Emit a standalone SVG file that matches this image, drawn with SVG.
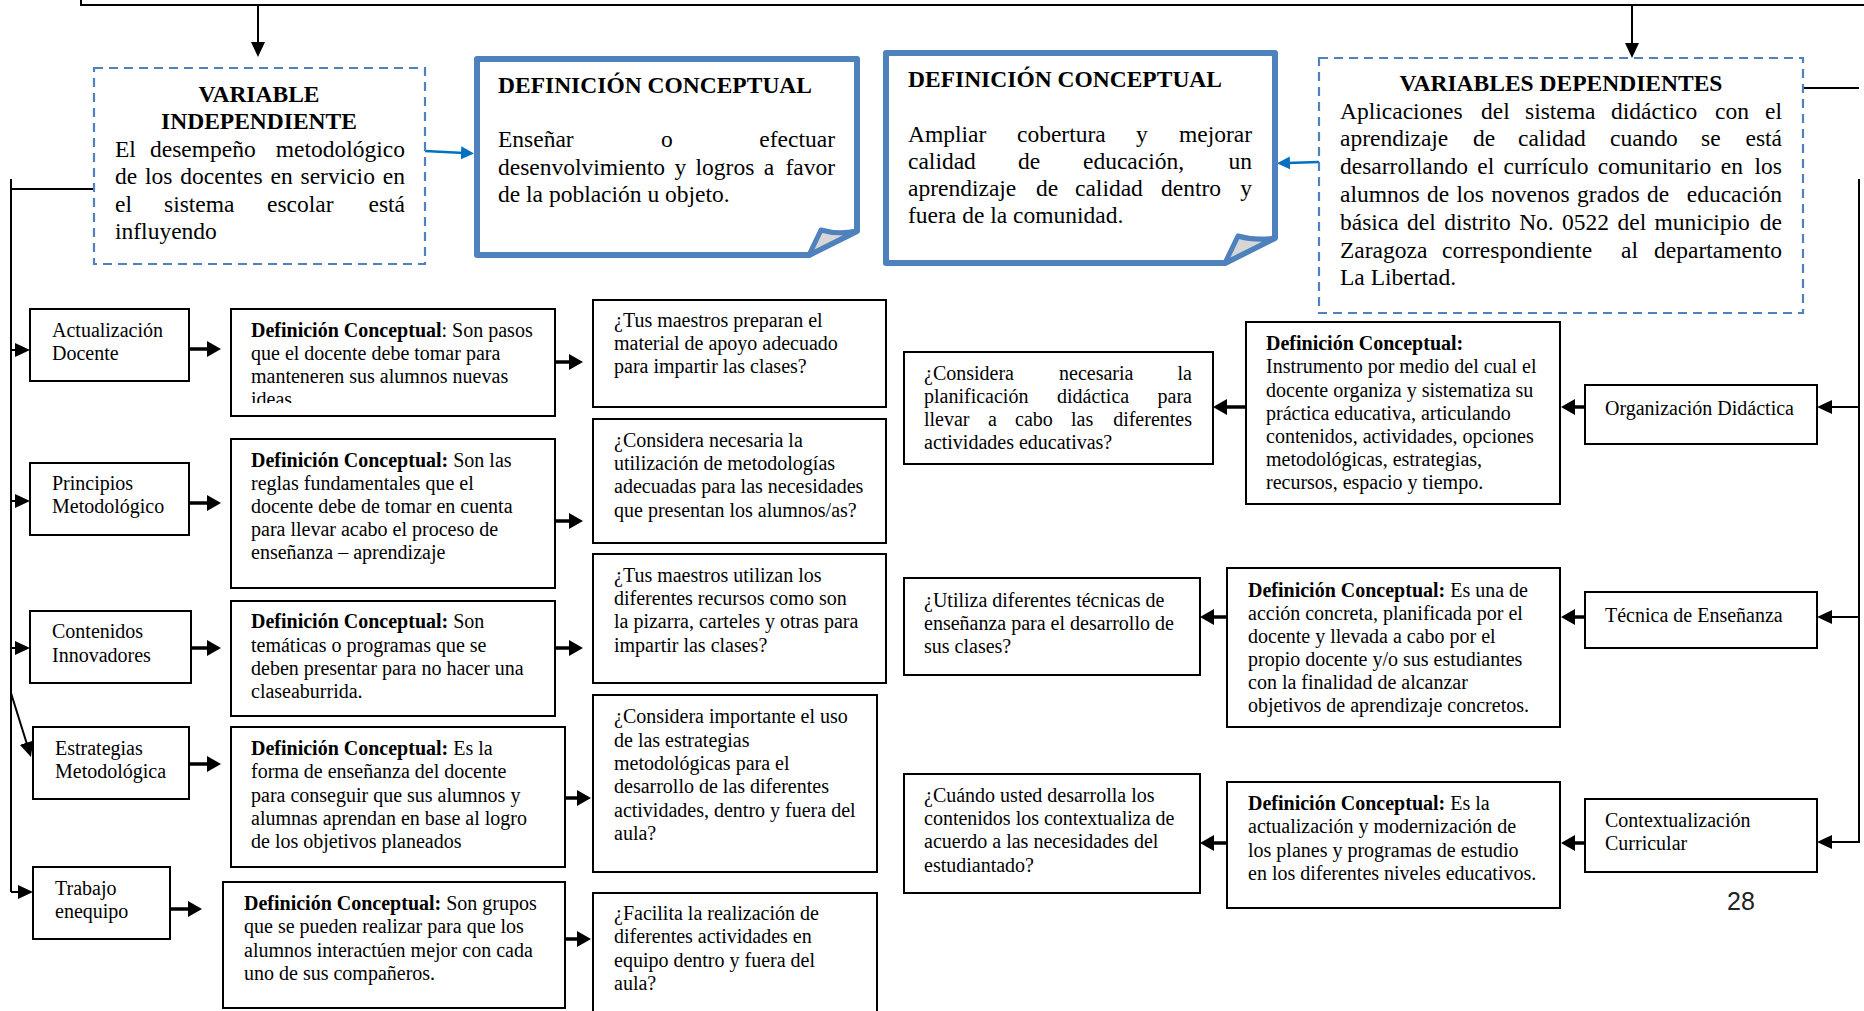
<svg xmlns="http://www.w3.org/2000/svg" width="1864" height="1011" viewBox="0 0 1864 1011">
<style>
.t{font-family:"Liberation Serif","Times New Roman",serif;font-size:20px;fill:#000}
.T{font-size:23.5px}
.b{font-weight:bold}
.e{text-anchor:end}
.box{fill:#fff;stroke:#000;stroke-width:2}
.dash{fill:#fff;stroke:#4F81BD;stroke-width:2.2;stroke-dasharray:9 6}
.def{fill:#fff;stroke:#4F81BD;stroke-width:6;stroke-linejoin:round}
.flap{fill:#D6D6D6;stroke:#4F81BD;stroke-width:5;stroke-linejoin:round}
.c{fill:none;stroke:#000;stroke-width:2}
.k{fill:none;stroke:#000;stroke-width:3.5}
.bl{fill:none;stroke:#0070C0;stroke-width:2.5}
.pg{font-family:"Liberation Sans",Arial,sans-serif;font-size:25px;fill:#222}
</style>
<defs>
<marker id="m1" markerUnits="userSpaceOnUse" markerWidth="15" markerHeight="14" viewBox="0 0 15 14" refX="5" refY="7" orient="auto"><path d="M0,0 L15,7 L0,14 Z" fill="#000"/></marker>
<marker id="m2" markerUnits="userSpaceOnUse" markerWidth="14" markerHeight="16" viewBox="0 0 14 16" refX="4" refY="8" orient="auto"><path d="M0,0 L14,8 L0,16 Z" fill="#000"/></marker>
<marker id="m3" markerUnits="userSpaceOnUse" markerWidth="13" markerHeight="13" viewBox="0 0 13 13" refX="3" refY="6.5" orient="auto"><path d="M0,0 L13,6.5 L0,13 Z" fill="#0070C0"/></marker>
<clipPath id="clipA"><rect x="232" y="310" width="322" height="93"/></clipPath>
</defs>

<g id="connectors">
<path class="c" d="M81,0 V5 H1864"/>
<path class="c" d="M258,5 V47" marker-end="url(#m1)"/>
<path class="c" d="M1632,5 V48" marker-end="url(#m1)"/>
<path class="c" d="M11,179 V892 M11,189 H94"/>
<path class="c" d="M11,350 H20" marker-end="url(#m1)"/>
<path class="c" d="M11,501 H20" marker-end="url(#m1)"/>
<path class="c" d="M11,648 H20" marker-end="url(#m1)"/>
<path class="c" d="M11,693 L28,747.5" marker-end="url(#m1)"/>
<path class="c" d="M11,892 H23" marker-end="url(#m1)"/>
<path class="c" d="M1803,88 H1859"/>
<path class="c" d="M1859,179 V842 H1827" marker-end="url(#m1)"/>
<path class="c" d="M1859,407 H1827" marker-end="url(#m1)"/>
<path class="c" d="M1859,617 H1827" marker-end="url(#m1)"/>
<path class="k" d="M189,349 H211" marker-end="url(#m2)"/>
<path class="k" d="M189,503 H211" marker-end="url(#m2)"/>
<path class="k" d="M191,648 H211" marker-end="url(#m2)"/>
<path class="k" d="M189,764 H211" marker-end="url(#m2)"/>
<path class="k" d="M170,909 H192" marker-end="url(#m2)"/>
<path class="k" d="M555,362 H573" marker-end="url(#m2)"/>
<path class="k" d="M555,521 H573" marker-end="url(#m2)"/>
<path class="k" d="M555,648 H573" marker-end="url(#m2)"/>
<path class="k" d="M565,798 H581" marker-end="url(#m2)"/>
<path class="k" d="M565,939 H581" marker-end="url(#m2)"/>
<path class="k" d="M1246,407 H1223" marker-end="url(#m2)"/>
<path class="k" d="M1585,407 H1571" marker-end="url(#m2)"/>
<path class="k" d="M1227,617 H1210" marker-end="url(#m2)"/>
<path class="k" d="M1585,617 H1571" marker-end="url(#m2)"/>
<path class="k" d="M1227,843 H1210" marker-end="url(#m2)"/>
<path class="k" d="M1585,843 H1571" marker-end="url(#m2)"/>
<path class="bl" d="M425,151 L464,153" marker-end="url(#m3)"/>
<path class="bl" d="M1319,162 L1287,163" marker-end="url(#m3)"/>
</g>

<g id="var-independiente">
<rect class="dash" x="94" y="68" width="331" height="196"/>
<text class="t T b" x="259" y="102" text-anchor="middle">VARIABLE</text>
<text class="t T b" x="259" y="129.4" text-anchor="middle">INDEPENDIENTE</text>
<text class="t T" y="156.8"><tspan x="115">El</tspan><tspan x="150">desempeño</tspan></text>
<text class="t T e" x="405" y="156.8">metodológico</text>
<text class="t T" x="115" y="184.2" style="word-spacing:2px">de los docentes en servicio en</text>
<text class="t T" y="211.6"><tspan x="115">el</tspan><tspan x="164">sistema</tspan><tspan x="267">escolar</tspan></text>
<text class="t T e" x="405" y="211.6">está</text>
<text class="t T" x="115" y="239">influyendo</text>
</g>

<g id="def-conceptual-1">
<path class="def" d="M477,59 H857 V231 L809,255 H477 Z"/>
<path class="flap" d="M809,255 L821,230 Q838,235 857,231 Z"/>
<text class="t T b" x="498" y="93">DEFINICIÓN CONCEPTUAL</text>
<text class="t T" y="147"><tspan x="498">Enseñar</tspan><tspan x="661">o</tspan></text>
<text class="t T e" x="835" y="147">efectuar</text>
<text class="t T" x="498" y="174.5" style="word-spacing:3.5px">desenvolvimiento y logros a</text>
<text class="t T e" x="835" y="174.5">favor</text>
<text class="t T" x="498" y="202">de la población u objeto.</text>
</g>

<g id="def-conceptual-2">
<path class="def" d="M886,53 H1275 V238 L1225,263 H886 Z"/>
<path class="flap" d="M1225,263 L1238,236 Q1255,241 1275,238 Z"/>
<text class="t T b" x="908" y="87">DEFINICIÓN CONCEPTUAL</text>
<text class="t T" y="141.5"><tspan x="908">Ampliar</tspan><tspan x="1017">cobertura</tspan><tspan x="1136">y</tspan></text>
<text class="t T e" x="1252" y="141.5">mejorar</text>
<text class="t T" y="168.5"><tspan x="908">calidad</tspan><tspan x="1018">de</tspan><tspan x="1083">educación,</tspan></text>
<text class="t T e" x="1252" y="168.5">un</text>
<text class="t T" y="195.5"><tspan x="908">aprendizaje</tspan><tspan x="1036">de</tspan><tspan x="1075">calidad</tspan><tspan x="1161">dentro</tspan></text>
<text class="t T e" x="1252" y="195.5">y</text>
<text class="t T" x="908" y="223">fuera de la comunidad.</text>
</g>

<g id="var-dependientes">
<rect class="dash" x="1319" y="58" width="484" height="255"/>
<text class="t T b" x="1561" y="91" text-anchor="middle">VARIABLES DEPENDIENTES</text>
<text class="t T" y="118.5"><tspan x="1340">Aplicaciones</tspan><tspan x="1481">del</tspan><tspan x="1525">sistema</tspan><tspan x="1611">didáctico</tspan><tspan x="1715">con</tspan></text>
<text class="t T e" x="1782" y="118.5">el</text>
<text class="t T" y="146.3"><tspan x="1340">aprendizaje</tspan><tspan x="1473">de</tspan><tspan x="1518">calidad</tspan><tspan x="1610">cuando</tspan><tspan x="1701">se</tspan></text>
<text class="t T e" x="1782" y="146.3">está</text>
<text class="t T" x="1340" y="174.1" style="word-spacing:3.5px">desarrollando el currículo comunitario en</text>
<text class="t T e" x="1782" y="174.1">los</text>
<text class="t T" x="1340" y="201.9" style="word-spacing:1.5px">alumnos de los novenos grados  de</text>
<text class="t T e" x="1782" y="201.9">educación</text>
<text class="t T" x="1340" y="229.7" style="word-spacing:2.5px">básica del distrito No. 0522 del municipio</text>
<text class="t T e" x="1782" y="229.7">de</text>
<text class="t T" y="257.5"><tspan x="1340">Zaragoza</tspan><tspan x="1442">correspondiente</tspan><tspan x="1621">al</tspan></text>
<text class="t T e" x="1782" y="257.5">departamento</text>
<text class="t T" x="1340" y="285.3">La Libertad.</text>
</g>

<g id="actualizacion-docente">
<rect class="box" x="30" y="309" width="159" height="72"/>
<text class="t" x="52" y="337">Actualización</text>
<text class="t" x="52" y="360">Docente</text>
</g>
<g id="def-actualizacion">
<rect class="box" x="231" y="309" width="324" height="107"/>
<g clip-path="url(#clipA)">
<text class="t" x="251" y="337"><tspan class="b">Definición Conceptual</tspan>: Son pasos</text>
<text class="t" x="251" y="360">que el docente debe tomar para</text>
<text class="t" x="251" y="383">manteneren sus alumnos nuevas</text>
<text class="t" x="251" y="406">ideas.</text>
</g>
</g>
<g id="q-actualizacion">
<rect class="box" x="593" y="300" width="293" height="107"/>
<text class="t" x="614" y="327">¿Tus maestros preparan el</text>
<text class="t" x="614" y="350">material de apoyo adecuado</text>
<text class="t" x="614" y="373">para impartir las clases?</text>
</g>

<g id="principios-metodologico">
<rect class="box" x="30" y="463" width="159" height="72"/>
<text class="t" x="52" y="490">Principios</text>
<text class="t" x="52" y="513">Metodológico</text>
</g>
<g id="def-principios">
<rect class="box" x="231" y="439" width="324" height="149"/>
<text class="t" x="251" y="467"><tspan class="b">Definición Conceptual:</tspan> Son las</text>
<text class="t" x="251" y="490">reglas fundamentales que el</text>
<text class="t" x="251" y="513">docente debe de tomar en cuenta</text>
<text class="t" x="251" y="536">para llevar acabo el proceso de</text>
<text class="t" x="251" y="559">enseñanza – aprendizaje</text>
</g>
<g id="q-principios">
<rect class="box" x="593" y="419" width="293" height="124"/>
<text class="t" x="614" y="447">¿Considera necesaria la</text>
<text class="t" x="614" y="470">utilización de metodologías</text>
<text class="t" x="614" y="493">adecuadas para las necesidades</text>
<text class="t" x="614" y="517">que presentan los alumnos/as?</text>
</g>

<g id="contenidos-innovadores">
<rect class="box" x="30" y="611" width="161" height="72"/>
<text class="t" x="52" y="638">Contenidos</text>
<text class="t" x="52" y="662">Innovadores</text>
</g>
<g id="def-contenidos">
<rect class="box" x="231" y="601" width="324" height="115"/>
<text class="t" x="251" y="628"><tspan class="b">Definición Conceptual:</tspan> Son</text>
<text class="t" x="251" y="652">temáticas o programas que se</text>
<text class="t" x="251" y="675">deben presentar para no hacer una</text>
<text class="t" x="251" y="698">claseaburrida.</text>
</g>
<g id="q-contenidos">
<rect class="box" x="593" y="554" width="293" height="129"/>
<text class="t" x="614" y="582">¿Tus maestros utilizan los</text>
<text class="t" x="614" y="605">diferentes recursos como son</text>
<text class="t" x="614" y="628">la pizarra, carteles y otras para</text>
<text class="t" x="614" y="652">impartir las clases?</text>
</g>

<g id="estrategias-metodologica">
<rect class="box" x="33" y="727" width="156" height="72"/>
<text class="t" x="55" y="755">Estrategias</text>
<text class="t" x="55" y="778">Metodológica</text>
</g>
<g id="def-estrategias">
<rect class="box" x="231" y="727" width="334" height="140"/>
<text class="t" x="251" y="755"><tspan class="b">Definición Conceptual:</tspan> Es la</text>
<text class="t" x="251" y="778">forma de enseñanza del docente</text>
<text class="t" x="251" y="802">para conseguir que sus alumnos y</text>
<text class="t" x="251" y="825">alumnas aprendan en base al logro</text>
<text class="t" x="251" y="848">de los objetivos planeados</text>
</g>
<g id="q-estrategias">
<rect class="box" x="593" y="695" width="284" height="177"/>
<text class="t" x="614" y="723">¿Considera importante el uso</text>
<text class="t" x="614" y="747">de las estrategias</text>
<text class="t" x="614" y="770">metodológicas para el</text>
<text class="t" x="614" y="793">desarrollo de las diferentes</text>
<text class="t" x="614" y="817">actividades, dentro y fuera del</text>
<text class="t" x="614" y="840">aula?</text>
</g>

<g id="trabajo-enequipo">
<rect class="box" x="33" y="867" width="137" height="72"/>
<text class="t" x="55" y="895">Trabajo</text>
<text class="t" x="55" y="918">enequipo</text>
</g>
<g id="def-trabajo">
<rect class="box" x="223" y="882" width="342" height="126"/>
<text class="t" x="244" y="910"><tspan class="b">Definición Conceptual:</tspan> Son grupos</text>
<text class="t" x="244" y="933">que se pueden realizar para que los</text>
<text class="t" x="244" y="957">alumnos interactúen mejor con cada</text>
<text class="t" x="244" y="980">uno de sus compañeros.</text>
</g>
<g id="q-trabajo">
<rect class="box" x="593" y="893" width="284" height="130"/>
<text class="t" x="614" y="920">¿Facilita la realización de</text>
<text class="t" x="614" y="943">diferentes actividades en</text>
<text class="t" x="614" y="967">equipo dentro y fuera del</text>
<text class="t" x="614" y="990">aula?</text>
</g>

<g id="organizacion-didactica">
<rect class="box" x="1585" y="385" width="232" height="59"/>
<text class="t" x="1605" y="415">Organización Didáctica</text>
</g>
<g id="def-organizacion">
<rect class="box" x="1246" y="322" width="314" height="182"/>
<text class="t b" x="1266" y="350">Definición Conceptual:</text>
<text class="t" x="1266" y="373">Instrumento por medio del cual el</text>
<text class="t" x="1266" y="397">docente organiza y sistematiza su</text>
<text class="t" x="1266" y="420">práctica educativa, articulando</text>
<text class="t" x="1266" y="443">contenidos, actividades, opciones</text>
<text class="t" x="1266" y="466">metodológicas, estrategias,</text>
<text class="t" x="1266" y="489">recursos, espacio  y tiempo.</text>
</g>
<g id="q-organizacion">
<rect class="box" x="904" y="352" width="309" height="112"/>
<text class="t" y="380"><tspan x="924">¿Considera</tspan><tspan x="1059">necesaria</tspan></text>
<text class="t e" x="1192" y="380">la</text>
<text class="t" y="403"><tspan x="924">planificación</tspan><tspan x="1057">didáctica</tspan></text>
<text class="t e" x="1192" y="403">para</text>
<text class="t" y="426"><tspan x="924">llevar</tspan><tspan x="988">a</tspan><tspan x="1015">cabo</tspan><tspan x="1071">las</tspan></text>
<text class="t e" x="1192" y="426">diferentes</text>
<text class="t" x="924" y="449">actividades educativas?</text>
</g>

<g id="tecnica-ensenanza">
<rect class="box" x="1585" y="592" width="232" height="56"/>
<text class="t" x="1605" y="622">Técnica de Enseñanza</text>
</g>
<g id="def-tecnica">
<rect class="box" x="1227" y="568" width="333" height="159"/>
<text class="t" x="1248" y="597"><tspan class="b">Definición Conceptual:</tspan> Es una de</text>
<text class="t" x="1248" y="620">acción concreta, planificada por el</text>
<text class="t" x="1248" y="643">docente y llevada a cabo por el</text>
<text class="t" x="1248" y="666">propio docente y/o sus estudiantes</text>
<text class="t" x="1248" y="689">con la finalidad de alcanzar</text>
<text class="t" x="1248" y="712">objetivos de aprendizaje concretos.</text>
</g>
<g id="q-tecnica">
<rect class="box" x="904" y="578" width="296" height="97"/>
<text class="t" x="924" y="607">¿Utiliza diferentes técnicas de</text>
<text class="t" x="924" y="630">enseñanza para el desarrollo de</text>
<text class="t" x="924" y="653">sus clases?</text>
</g>

<g id="contextualizacion-curricular">
<rect class="box" x="1585" y="799" width="232" height="73"/>
<text class="t" x="1605" y="827">Contextualización</text>
<text class="t" x="1605" y="850">Curricular</text>
</g>
<g id="def-contextualizacion">
<rect class="box" x="1227" y="782" width="333" height="126"/>
<text class="t" x="1248" y="810"><tspan class="b">Definición Conceptual:</tspan> Es la</text>
<text class="t" x="1248" y="833">actualización y modernización de</text>
<text class="t" x="1248" y="857">los planes y programas de estudio</text>
<text class="t" x="1248" y="880">en los diferentes niveles educativos.</text>
</g>
<g id="q-contextualizacion">
<rect class="box" x="904" y="774" width="296" height="119"/>
<text class="t" x="924" y="802">¿Cuándo usted desarrolla los</text>
<text class="t" x="924" y="825">contenidos los contextualiza de</text>
<text class="t" x="924" y="848">acuerdo a las necesidades del</text>
<text class="t" x="924" y="872">estudiantado?</text>
</g>

<text class="pg" x="1727" y="910">28</text>
</svg>
